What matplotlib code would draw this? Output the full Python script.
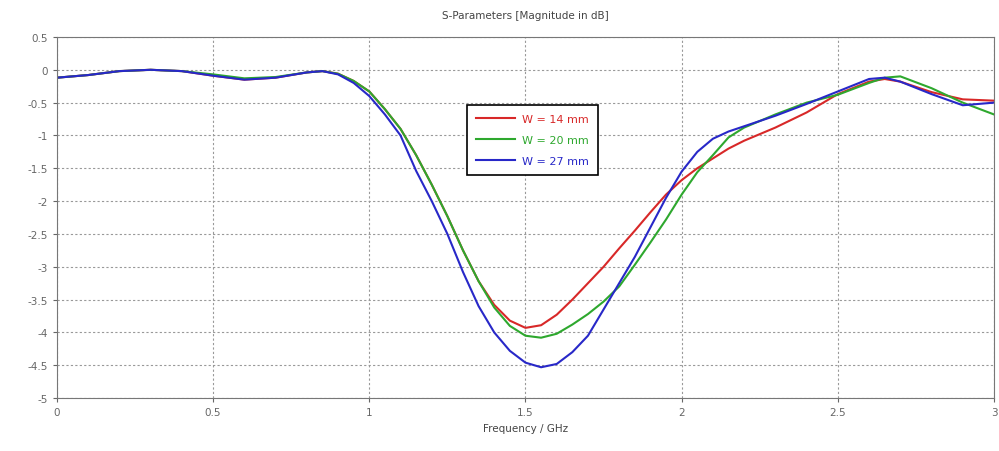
import matplotlib.pyplot as plt

# frequency points in GHz
freq = [0.0, 0.1, 0.2, 0.3, 0.4, 0.5, 0.6, 0.7, 0.8, 0.85, 0.9, 0.95,
        1.0, 1.05, 1.1, 1.15, 1.2, 1.25, 1.3, 1.35, 1.4, 1.45, 1.5, 1.55,
        1.6, 1.65, 1.7, 1.75, 1.8, 1.85, 1.9, 1.95, 2.0, 2.05, 2.1, 2.15,
        2.2, 2.3, 2.4, 2.5, 2.6, 2.65, 2.7, 2.8, 2.9, 3.0]

s_14 = [-0.12, -0.08, -0.02, 0.0, -0.02, -0.09, -0.15, -0.12, -0.04, -0.02, -0.06, -0.17,
        -0.33, -0.6, -0.9, -1.3, -1.75, -2.23, -2.75, -3.22, -3.58, -3.82, -3.93, -3.89,
        -3.73, -3.5, -3.25, -3.0, -2.72, -2.45, -2.17, -1.9, -1.68, -1.5, -1.35, -1.2,
        -1.08, -0.88, -0.65, -0.37, -0.18, -0.14, -0.18, -0.34, -0.45, -0.47]

s_20 = [-0.12, -0.08, -0.02, 0.0, -0.02, -0.07, -0.13, -0.11, -0.04, -0.02, -0.06, -0.17,
        -0.33, -0.6, -0.9, -1.3, -1.75, -2.23, -2.75, -3.22, -3.62, -3.9, -4.05, -4.08,
        -4.02, -3.88, -3.72, -3.53, -3.3, -2.97, -2.63, -2.28, -1.9, -1.56, -1.3, -1.03,
        -0.88, -0.68, -0.5, -0.38, -0.2, -0.12, -0.1, -0.28, -0.5, -0.68]

s_27 = [-0.12, -0.08, -0.02, 0.0, -0.02, -0.09, -0.15, -0.12, -0.04, -0.02, -0.07, -0.2,
        -0.4, -0.68, -1.0, -1.54, -2.0, -2.5, -3.08, -3.6, -4.0, -4.28, -4.46, -4.53,
        -4.48, -4.3, -4.05, -3.65, -3.25, -2.85, -2.4, -1.95, -1.55, -1.25, -1.05, -0.94,
        -0.86, -0.7, -0.52, -0.33, -0.14, -0.12, -0.18, -0.37, -0.54, -0.5]

labels = ["W = 14 mm", "W = 20 mm", "W = 27 mm"]
colors = ["#d82828", "#2ea82e", "#2828c8"]

fig = plt.figure(figsize=(9.99, 4.52), dpi=100)
ax = fig.add_axes([0.057, 0.117, 0.938, 0.799])

for s, lab, c in zip([s_14, s_20, s_27], labels, colors):
    ax.plot(freq, s, color=c, lw=1.5, label=lab)

ax.set_xlim(0, 3)
ax.set_ylim(-5, 0.5)
ax.set_xticks([0, 0.5, 1, 1.5, 2, 2.5, 3])
ax.set_xticklabels(["0", "0.5", "1", "1.5", "2", "2.5", "3"])
ax.set_yticks([0.5, 0, -0.5, -1, -1.5, -2, -2.5, -3, -3.5, -4, -4.5, -5])
ax.set_yticklabels(["0.5", "0", "-0.5", "-1", "-1.5", "-2", "-2.5", "-3",
                    "-3.5", "-4", "-4.5", "-5"])
ax.tick_params(labelsize=7.5, colors="#666666", length=3)
ax.grid(True, linestyle=(0, (2, 2)), color="#999999", lw=0.8)
for sp in ax.spines.values():
    sp.set_color("#777777")

ax.set_xlabel("Frequency / GHz", fontsize=7.5, color="#444444", labelpad=4)
ax.set_title("S-Parameters [Magnitude in dB]", fontsize=7.5, color="#444444", pad=14)

leg = ax.legend(loc="upper left", bbox_to_anchor=(0.432, 0.827), fontsize=8,
                fancybox=False, framealpha=1, edgecolor="black", handlelength=3.5,
                borderpad=0.8, labelspacing=1.0, handletextpad=0.6)
leg.get_frame().set_linewidth(1.2)
for t, c in zip(leg.get_texts(), colors):
    t.set_color(c)

fig.savefig("out.png", dpi=100)
